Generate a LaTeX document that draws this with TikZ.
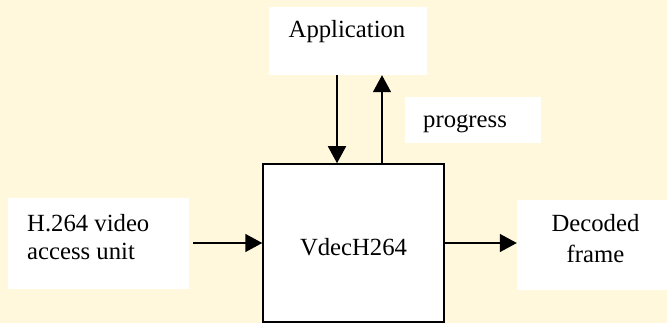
\documentclass[tikz,border=0pt]{standalone}
\usepackage{fontspec}
\setmainfont{Liberation Serif}
\usetikzlibrary{arrows.meta}
\definecolor{paper}{RGB}{255,248,220}
\tikzset{
  panel/.style={fill=white, draw=none, inner sep=0pt},
  mainbox/.style={fill=white, draw=black, line width=1.5pt, inner sep=0pt},
  caption/.style={inner sep=0pt, font=\fontsize{24.7}{29}\selectfont},
  flow/.style={line width=1.6pt, -{Triangle[length=17pt,width=18pt]}},
}
\begin{document}
\begin{tikzpicture}[x=1pt,y=-1pt]
  % page background
  \fill[paper] (0,0) rectangle (667,323);
  \useasboundingbox (0,0) rectangle (667,323);

  % blocks
  \node[panel, minimum width=158pt, minimum height=68pt] (app) at (348,41) {};
  \node[panel, minimum width=136pt, minimum height=46pt] (prog) at (473,120) {};
  \node[mainbox, minimum width=181pt, minimum height=158pt] (dec) at (353.5,243) {};
  \node[panel, minimum width=181pt, minimum height=91pt] (src) at (98.5,243.5) {};
  \node[panel, minimum width=150pt, minimum height=90pt] (dst) at (592,245) {};

  % texts
  \node[caption, anchor=base] (appT) at (347,38) {Application};
  \node[caption, anchor=base west] (progT) at (423,128) {progress};
  \node[caption, anchor=base] (decT) at (353.5,256) {VdecH264};
  \node[caption, anchor=base west] (srcT1) at (27,232) {H.264 video};
  \node[caption, anchor=base west] (srcT2) at (27,260) {access unit};
  \node[caption, anchor=base] (dstT1) at (595.5,232) {Decoded};
  \node[caption, anchor=base] (dstT2) at (595.5,262) {frame};

  % connectors
  \draw[flow] ([xshift=-11pt]app.south) -- ([xshift=-11pt]app.south |- dec.north);
  \draw[flow] ([xshift=34pt]app.south |- dec.north) -- ([xshift=34pt]app.south);
  \draw[flow, shorten <=4pt] (src.east |- dec.west) -- (dec.west);
  \draw[flow] (dec.east) -- (dec.east -| dst.west);
\end{tikzpicture}
\end{document}
